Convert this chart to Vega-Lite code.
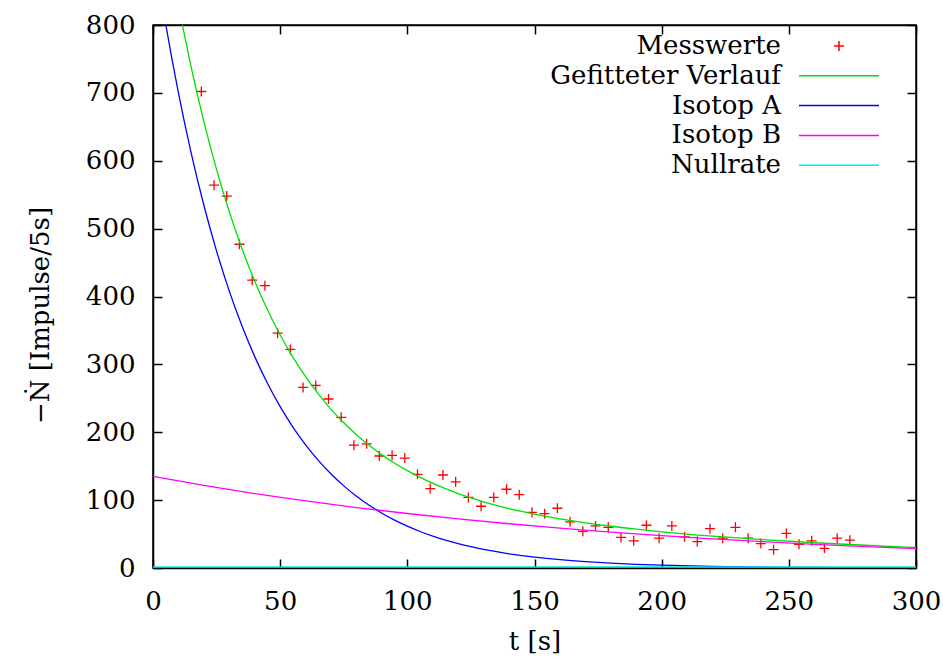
{
  "$schema": "https://vega.github.io/schema/vega-lite/v6.json",
  "width": 763,
  "height": 543,
  "autosize": {"type": "none"},
  "padding": {"left": 153, "top": 25, "right": 27, "bottom": 92},
  "background": "white",
  "config": {
    "font": "DejaVu Serif",
    "view": {"stroke": "black", "strokeWidth": 1.5},
    "axis": {
      "grid": false,
      "domainColor": "black",
      "domainWidth": 1.5,
      "tickColor": "black",
      "tickWidth": 1.5,
      "tickSize": -9,
      "labelColor": "black",
      "titleColor": "black",
      "labelFont": "DejaVu Serif",
      "titleFont": "DejaVu Serif",
      "labelFontSize": 26,
      "titleFontSize": 26,
      "titleFontWeight": "normal"
    },
    "legend": {
      "labelFont": "DejaVu Serif",
      "labelFontSize": 26,
      "labelColor": "black",
      "labelLimit": 500
    }
  },
  "resolve": {"axis": {"x": "independent", "y": "independent"}},
  "layer": [
    {
      "data": {"values": [
        {"series": "Messwerte", "t": 19, "v": 702},
        {"series": "Messwerte", "t": 24, "v": 564},
        {"series": "Messwerte", "t": 29, "v": 548},
        {"series": "Messwerte", "t": 34, "v": 477},
        {"series": "Messwerte", "t": 39, "v": 424},
        {"series": "Messwerte", "t": 44, "v": 416},
        {"series": "Messwerte", "t": 49, "v": 346},
        {"series": "Messwerte", "t": 54, "v": 322},
        {"series": "Messwerte", "t": 59, "v": 266},
        {"series": "Messwerte", "t": 64, "v": 269},
        {"series": "Messwerte", "t": 69, "v": 249},
        {"series": "Messwerte", "t": 74, "v": 222},
        {"series": "Messwerte", "t": 79, "v": 181},
        {"series": "Messwerte", "t": 84, "v": 183},
        {"series": "Messwerte", "t": 89, "v": 165},
        {"series": "Messwerte", "t": 94, "v": 166},
        {"series": "Messwerte", "t": 99, "v": 162},
        {"series": "Messwerte", "t": 104, "v": 138},
        {"series": "Messwerte", "t": 109, "v": 117},
        {"series": "Messwerte", "t": 114, "v": 137},
        {"series": "Messwerte", "t": 119, "v": 127},
        {"series": "Messwerte", "t": 124, "v": 104},
        {"series": "Messwerte", "t": 129, "v": 91},
        {"series": "Messwerte", "t": 134, "v": 104},
        {"series": "Messwerte", "t": 139, "v": 116},
        {"series": "Messwerte", "t": 144, "v": 108},
        {"series": "Messwerte", "t": 149, "v": 82},
        {"series": "Messwerte", "t": 154, "v": 80},
        {"series": "Messwerte", "t": 159, "v": 88},
        {"series": "Messwerte", "t": 164, "v": 68},
        {"series": "Messwerte", "t": 169, "v": 54},
        {"series": "Messwerte", "t": 174, "v": 62},
        {"series": "Messwerte", "t": 179, "v": 60},
        {"series": "Messwerte", "t": 184, "v": 45},
        {"series": "Messwerte", "t": 189, "v": 40},
        {"series": "Messwerte", "t": 194, "v": 63},
        {"series": "Messwerte", "t": 199, "v": 44},
        {"series": "Messwerte", "t": 204, "v": 62},
        {"series": "Messwerte", "t": 209, "v": 46},
        {"series": "Messwerte", "t": 214, "v": 39},
        {"series": "Messwerte", "t": 219, "v": 58},
        {"series": "Messwerte", "t": 224, "v": 44},
        {"series": "Messwerte", "t": 229, "v": 60},
        {"series": "Messwerte", "t": 234, "v": 44},
        {"series": "Messwerte", "t": 239, "v": 36},
        {"series": "Messwerte", "t": 244, "v": 27},
        {"series": "Messwerte", "t": 249, "v": 51},
        {"series": "Messwerte", "t": 254, "v": 35},
        {"series": "Messwerte", "t": 259, "v": 40},
        {"series": "Messwerte", "t": 264, "v": 29},
        {"series": "Messwerte", "t": 269, "v": 44},
        {"series": "Messwerte", "t": 274, "v": 41}
      ]},
      "mark": {"type": "point", "filled": false, "size": 100, "strokeWidth": 1.3, "opacity": 1},
      "encoding": {
        "x": {"field": "t", "type": "quantitative",
          "scale": {"domain": [0, 300], "nice": false, "zero": false},
          "axis": {"orient": "bottom", "values": [0, 50, 100, 150, 200, 250, 300], "title": "t [s]",
            "labelPadding": 29, "titleX": 381.5, "titleY": 73, "titleBaseline": "middle", "titleAlign": "center", "labelFlush": false}},
        "y": {"field": "v", "type": "quantitative",
          "scale": {"domain": [0, 800], "nice": false},
          "axis": {"orient": "left", "values": [0, 100, 200, 300, 400, 500, 600, 700, 800], "title": "−Ṅ [Impulse/5s]",
            "labelPadding": 27, "titleX": -113, "titleY": 290, "titleAngle": -90, "titleAlign": "center", "titleBaseline": "middle", "labelFlush": false}},
        "color": {"field": "series", "type": "nominal",
          "scale": {"domain": ["Messwerte", "Gefitteter Verlauf", "Isotop A", "Isotop B", "Nullrate"],
            "range": ["#ff0000", "#00e000", "#0000ff", "#ff00ff", "#00e8e8"]},
          "legend": {"title": null, "orient": "none", "legendX": 673, "legendY": 8, "padding": 0, "rowPadding": 3.8,
            "labelAlign": "right", "labelOffset": -71, "symbolSize": 100, "symbolStrokeWidth": 1.5, "symbolFillColor": "transparent"}},
        "shape": {"field": "series", "type": "nominal",
          "scale": {"domain": ["Messwerte", "Gefitteter Verlauf", "Isotop A", "Isotop B", "Nullrate"],
            "range": ["M-1,0H1M0,-1V1", "M-8,0H8", "M-8,0H8", "M-8,0H8", "M-8,0H8"]},
          "legend": {"title": null, "orient": "none", "legendX": 673, "legendY": 8, "padding": 0, "rowPadding": 3.8,
            "labelAlign": "right", "labelOffset": -71, "symbolSize": 100, "symbolStrokeWidth": 1.5, "symbolFillColor": "transparent"}}
      }
    },
    {
      "data": {"values": [
        {"series": "Gefitteter Verlauf", "t": 0, "v": 1053.5},
        {"series": "Gefitteter Verlauf", "t": 2.5, "v": 991.9},
        {"series": "Gefitteter Verlauf", "t": 5, "v": 934.2},
        {"series": "Gefitteter Verlauf", "t": 10, "v": 829.7},
        {"series": "Gefitteter Verlauf", "t": 12.5, "v": 782.7},
        {"series": "Gefitteter Verlauf", "t": 15, "v": 738.0},
        {"series": "Gefitteter Verlauf", "t": 20, "v": 657.6},
        {"series": "Gefitteter Verlauf", "t": 25, "v": 587.0},
        {"series": "Gefitteter Verlauf", "t": 30, "v": 524.9},
        {"series": "Gefitteter Verlauf", "t": 35, "v": 470.4},
        {"series": "Gefitteter Verlauf", "t": 40, "v": 422.5},
        {"series": "Gefitteter Verlauf", "t": 45, "v": 380.4},
        {"series": "Gefitteter Verlauf", "t": 50, "v": 343.3},
        {"series": "Gefitteter Verlauf", "t": 55, "v": 310.6},
        {"series": "Gefitteter Verlauf", "t": 60, "v": 281.8},
        {"series": "Gefitteter Verlauf", "t": 65, "v": 256.4},
        {"series": "Gefitteter Verlauf", "t": 70, "v": 233.8},
        {"series": "Gefitteter Verlauf", "t": 75, "v": 213.9},
        {"series": "Gefitteter Verlauf", "t": 80, "v": 196.4},
        {"series": "Gefitteter Verlauf", "t": 85, "v": 180.7},
        {"series": "Gefitteter Verlauf", "t": 90, "v": 166.7},
        {"series": "Gefitteter Verlauf", "t": 95, "v": 154.3},
        {"series": "Gefitteter Verlauf", "t": 100, "v": 143.4},
        {"series": "Gefitteter Verlauf", "t": 105, "v": 133.5},
        {"series": "Gefitteter Verlauf", "t": 110, "v": 124.7},
        {"series": "Gefitteter Verlauf", "t": 115, "v": 116.9},
        {"series": "Gefitteter Verlauf", "t": 120, "v": 109.7},
        {"series": "Gefitteter Verlauf", "t": 125, "v": 103.3},
        {"series": "Gefitteter Verlauf", "t": 130, "v": 97.6},
        {"series": "Gefitteter Verlauf", "t": 135, "v": 92.4},
        {"series": "Gefitteter Verlauf", "t": 140, "v": 87.6},
        {"series": "Gefitteter Verlauf", "t": 145, "v": 83.3},
        {"series": "Gefitteter Verlauf", "t": 150, "v": 79.4},
        {"series": "Gefitteter Verlauf", "t": 160, "v": 72.4},
        {"series": "Gefitteter Verlauf", "t": 170, "v": 66.6},
        {"series": "Gefitteter Verlauf", "t": 180, "v": 61.5},
        {"series": "Gefitteter Verlauf", "t": 190, "v": 57.2},
        {"series": "Gefitteter Verlauf", "t": 200, "v": 53.3},
        {"series": "Gefitteter Verlauf", "t": 220, "v": 46.9},
        {"series": "Gefitteter Verlauf", "t": 240, "v": 41.7},
        {"series": "Gefitteter Verlauf", "t": 260, "v": 37.2},
        {"series": "Gefitteter Verlauf", "t": 280, "v": 33.5},
        {"series": "Gefitteter Verlauf", "t": 300, "v": 30.2},
        {"series": "Isotop A", "t": 0, "v": 917.0},
        {"series": "Isotop A", "t": 2.5, "v": 857.1},
        {"series": "Isotop A", "t": 5, "v": 801.2},
        {"series": "Isotop A", "t": 10, "v": 700.0},
        {"series": "Isotop A", "t": 15, "v": 611.6},
        {"series": "Isotop A", "t": 20, "v": 534.4},
        {"series": "Isotop A", "t": 25, "v": 466.9},
        {"series": "Isotop A", "t": 30, "v": 407.9},
        {"series": "Isotop A", "t": 35, "v": 356.4},
        {"series": "Isotop A", "t": 40, "v": 311.4},
        {"series": "Isotop A", "t": 45, "v": 272.1},
        {"series": "Isotop A", "t": 50, "v": 237.7},
        {"series": "Isotop A", "t": 55, "v": 207.7},
        {"series": "Isotop A", "t": 60, "v": 181.5},
        {"series": "Isotop A", "t": 65, "v": 158.6},
        {"series": "Isotop A", "t": 70, "v": 138.5},
        {"series": "Isotop A", "t": 75, "v": 121.0},
        {"series": "Isotop A", "t": 80, "v": 105.8},
        {"series": "Isotop A", "t": 85, "v": 92.4},
        {"series": "Isotop A", "t": 90, "v": 80.7},
        {"series": "Isotop A", "t": 95, "v": 70.5},
        {"series": "Isotop A", "t": 100, "v": 61.6},
        {"series": "Isotop A", "t": 105, "v": 53.8},
        {"series": "Isotop A", "t": 110, "v": 47.0},
        {"series": "Isotop A", "t": 115, "v": 41.1},
        {"series": "Isotop A", "t": 120, "v": 35.9},
        {"series": "Isotop A", "t": 125, "v": 31.4},
        {"series": "Isotop A", "t": 130, "v": 27.4},
        {"series": "Isotop A", "t": 135, "v": 24.0},
        {"series": "Isotop A", "t": 140, "v": 20.9},
        {"series": "Isotop A", "t": 145, "v": 18.3},
        {"series": "Isotop A", "t": 150, "v": 16.0},
        {"series": "Isotop A", "t": 160, "v": 12.2},
        {"series": "Isotop A", "t": 170, "v": 9.3},
        {"series": "Isotop A", "t": 180, "v": 7.1},
        {"series": "Isotop A", "t": 190, "v": 5.4},
        {"series": "Isotop A", "t": 200, "v": 4.1},
        {"series": "Isotop A", "t": 220, "v": 2.4},
        {"series": "Isotop A", "t": 240, "v": 1.4},
        {"series": "Isotop A", "t": 260, "v": 0.8},
        {"series": "Isotop A", "t": 280, "v": 0.5},
        {"series": "Isotop A", "t": 300, "v": 0.3},
        {"series": "Isotop B", "t": 0, "v": 135.0},
        {"series": "Isotop B", "t": 20, "v": 121.7},
        {"series": "Isotop B", "t": 40, "v": 109.6},
        {"series": "Isotop B", "t": 60, "v": 98.8},
        {"series": "Isotop B", "t": 80, "v": 89.1},
        {"series": "Isotop B", "t": 100, "v": 80.3},
        {"series": "Isotop B", "t": 120, "v": 72.3},
        {"series": "Isotop B", "t": 140, "v": 65.2},
        {"series": "Isotop B", "t": 160, "v": 58.7},
        {"series": "Isotop B", "t": 180, "v": 52.9},
        {"series": "Isotop B", "t": 200, "v": 47.7},
        {"series": "Isotop B", "t": 220, "v": 43.0},
        {"series": "Isotop B", "t": 240, "v": 38.8},
        {"series": "Isotop B", "t": 260, "v": 34.9},
        {"series": "Isotop B", "t": 280, "v": 31.5},
        {"series": "Isotop B", "t": 300, "v": 28.4},
        {"series": "Nullrate", "t": 0, "v": 1.5},
        {"series": "Nullrate", "t": 300, "v": 1.5}
      ]},
      "mark": {"type": "line", "clip": true, "strokeWidth": 1.3, "interpolate": "monotone"},
      "encoding": {
        "x": {"field": "t", "type": "quantitative",
          "axis": {"orient": "top", "values": [0, 50, 100, 150, 200, 250, 300], "labels": false, "title": null}},
        "y": {"field": "v", "type": "quantitative",
          "axis": {"orient": "right", "values": [0, 100, 200, 300, 400, 500, 600, 700, 800], "labels": false, "title": null}},
        "color": {"field": "series", "type": "nominal",
          "legend": {"title": null, "orient": "none", "legendX": 673, "legendY": 8, "padding": 0, "rowPadding": 3.8,
            "labelAlign": "right", "labelOffset": -71, "symbolSize": 100, "symbolStrokeWidth": 1.5, "symbolFillColor": "transparent"}}
      }
    }
  ]
}
